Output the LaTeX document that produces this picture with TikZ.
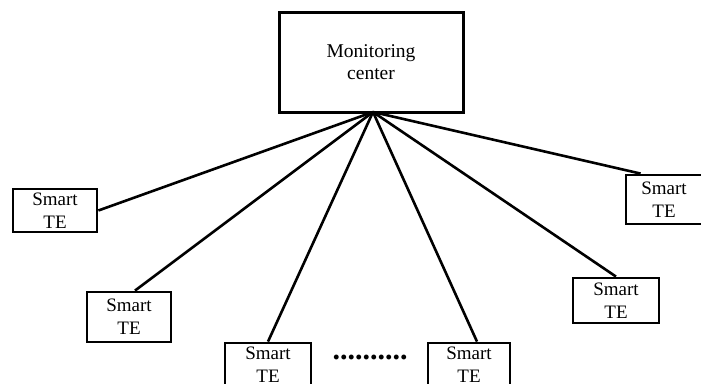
\documentclass[tikz,border=0pt]{standalone}
\usepackage{fontspec}
\setmainfont{Liberation Serif}
\usepackage{tikz}

\begin{document}
\begin{tikzpicture}[x=1pt, y=-1pt,
    tebox/.style={draw, line width=2.8pt, minimum width=84pt, minimum height=44pt,
                  inner sep=0pt, align=center, font=\fontsize{19}{23}\selectfont},
    link/.style={line width=2.6pt}]
            \useasboundingbox (0,0) rectangle (701,383);
            \clip (0,0) rectangle (701,383);
            % Define vertices
            \node[draw, line width=3pt, minimum width=184pt, minimum height=100pt,
                  align=center, font=\fontsize{19.5}{22}\selectfont] (mc) at (371,62) {Monitoring\\center};
            \coordinate (hub) at (373,112);
            \node[tebox, minimum height=43pt] (te1) at (55,210.5) {Smart\\TE};
            \node[tebox, minimum height=50pt] (te2) at (129,317) {Smart\\TE};
            \node[tebox, minimum width=86pt] (te3) at (268,365) {Smart\\TE};
            \node[tebox, minimum width=82pt] (te4) at (469,365) {Smart\\TE};
            \node[tebox, minimum height=45pt, minimum width=86pt] (te5) at (616,300.5) {Smart\\TE};
            \node[tebox, minimum height=49pt, minimum width=76pt] (te6) at (664,199.5) {Smart\\TE};
            \node[inner sep=0pt, font=\fontsize{30}{30}\selectfont\bfseries] (dots) at (370,357) {..........};
            % Draw edges from the center to every terminal
            \draw[link] (hub) -- (te1.east);
            \draw[link] (hub) -- ([xshift=6pt]te2.north);
            \draw[link] (hub) -- (te3.north);
            \draw[link] (hub) -- ([xshift=8pt]te4.north);
            \draw[link] (hub) -- (te5.north);
            \draw[link] (hub) -- ([xshift=16pt]te6.north west);
        \end{tikzpicture}
\end{document}
